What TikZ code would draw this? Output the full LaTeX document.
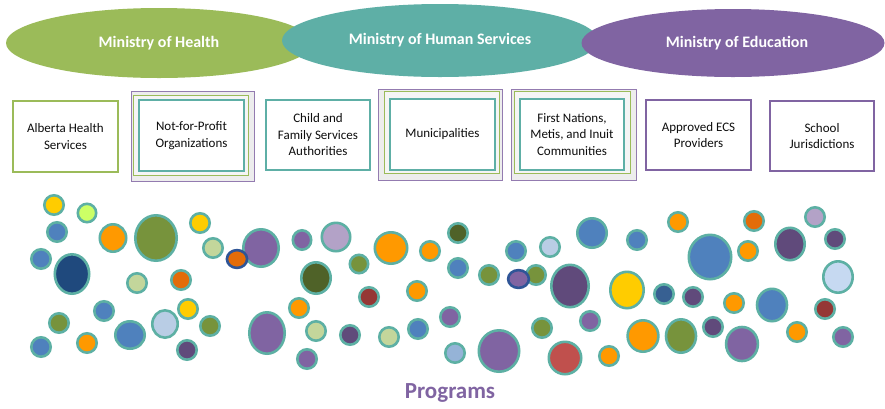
\documentclass[tikz,border=0pt]{standalone}
\usepackage{fontspec}
\setmainfont{Carlito}
\usetikzlibrary{shapes.geometric}
\definecolor{hgreen}{HTML}{9BBB59}
\definecolor{hteal}{HTML}{5EAFA6}
\definecolor{hpurple}{HTML}{8064A2}
\definecolor{ring}{HTML}{5DB0A4}
\definecolor{ringblue}{HTML}{2F5597}
\definecolor{cgold}{HTML}{FFCC00}
\definecolor{clime}{HTML}{CCFF66}
\definecolor{cblue}{HTML}{4F81BD}
\definecolor{corange}{HTML}{FF9900}
\definecolor{colive}{HTML}{77933C}
\definecolor{csage}{HTML}{C3D69B}
\definecolor{cdorange}{HTML}{E36C09}
\definecolor{cpurple}{HTML}{8064A2}
\definecolor{cnavy}{HTML}{1F497D}
\definecolor{clblue}{HTML}{B9CDE5}
\definecolor{cdpurple}{HTML}{604A7B}
\definecolor{clilac}{HTML}{B3A2C7}
\definecolor{cdolive}{HTML}{4F6228}
\definecolor{credbrown}{HTML}{953735}
\definecolor{csky}{HTML}{95B3D7}
\definecolor{cred}{HTML}{C0504D}
\definecolor{cpale}{HTML}{C6D9F1}
\definecolor{cdblue}{HTML}{376092}
\definecolor{txt}{HTML}{0D0D0D}
\tikzset{
  ministry/.style={ellipse, draw=none, inner sep=0pt, text=white,
    font=\fontsize{16}{19}\selectfont\bfseries},
  boxtext/.style={align=center, text=txt, inner sep=0pt,
    font=\fontsize{13}{16.5}\selectfont},
  greenbox/.style={boxtext, draw=hgreen, line width=2pt, fill=white},
  tealbox/.style={boxtext, draw=hteal, line width=2pt, fill=white},
  purplebox/.style={boxtext, draw=hpurple, line width=2pt, fill=white},
  outerbox/.style={draw=hpurple!85, line width=1pt, fill=black!7, inner sep=0pt},
  midbox/.style={draw=hgreen, line width=1.2pt, fill=black!4, inner sep=0pt},
  dot/.style={draw=ring, line width=2.6pt},
}
\begin{document}
\begin{tikzpicture}[x=1pt,y=-1pt]
\useasboundingbox (0,0) rectangle (885,408);
\fill[white] (0,0) rectangle (885,408);

% ministries
\node[ministry, fill=hgreen, minimum width=306pt, minimum height=70pt] (health) at (159,43) {Ministry of Health};
\node[ministry, fill=hteal, minimum width=316pt, minimum height=73pt] (human) at (440,40.5) {Ministry of Human Services};
\node[ministry, fill=hpurple, minimum width=303pt, minimum height=68pt] (edu) at (733,43) {\hspace*{8pt}Ministry of Education};

% boxes
\node[greenbox, minimum width=105pt, minimum height=71pt] (ahs) at (65.5,136.5) {Alberta Health\\Services};

\node[outerbox, minimum width=123pt, minimum height=90pt] (nfpo) at (193,136.5) {};
\node[midbox, minimum width=115pt, minimum height=80pt] (nfpm) at (191,135.5) {};
\node[tealbox, minimum width=105pt, minimum height=71pt] (nfp) at (191.5,135.5) {Not-for-Profit\\Organizations};

\node[tealbox, minimum width=104pt, minimum height=70pt] (cfsa) at (318,135) {Child and\\Family Services\\Authorities};

\node[outerbox, minimum width=124pt, minimum height=91pt] (munio) at (440.5,135) {};
\node[midbox, minimum width=115pt, minimum height=82pt] (munim) at (442,132.5) {};
\node[tealbox, minimum width=105pt, minimum height=71pt] (muni) at (442.5,134.5) {Municipalities};

\node[outerbox, minimum width=125pt, minimum height=91pt] (fno) at (574,135) {};
\node[midbox, minimum width=116pt, minimum height=82pt] (fnm) at (572.5,132.5) {};
\node[tealbox, minimum width=104pt, minimum height=71pt] (fn) at (572,134.5) {First Nations,\\Metis, and Inuit\\Communities};

\node[purplebox, minimum width=105pt, minimum height=70pt] (ecs) at (698.5,135) {Approved ECS\\Providers};
\node[purplebox, minimum width=104pt, minimum height=70pt] (school) at (822,136) {School\\Jurisdictions};

% program circles
\foreach \x/\y/\rx/\ry/\c in {
  54/205/11/11/cgold, 87/213/10.5/10.5/clime, 57/232/11/11/cblue,
  113/238/14.5/15/corange, 156/238/22/24/colive, 200/223/11/11/cgold,
  213/248/11/11/csage, 261/248/19/20/cpurple, 41/259/11/11/cblue,
  72/274/18.5/21/cnavy, 137/283/11/11/csage, 181/280/11/11/cdorange,
  104/311/11/11/cblue, 188/309/11/11/cgold, 59/323/11/11/colive,
  165/324/14/15/clblue, 210/326/11/11/colive, 267/333/19/22/cpurple,
  41/347/11/11/cblue, 87/343/11/11/corange, 130/335/16/15/cblue,
  187/350/11/11/cdpurple,
  302/240/10.5/11/cpurple, 336/237/15.5/15.5/clilac, 391/248/17.5/17/corange,
  430/251/11/11/corange, 458/233/11/11/cdolive, 316/278/16/17/cdolive,
  359/264/10.5/10.5/colive, 458/268/11/11/cblue, 516/251/11/11/cblue,
  550/247/11/11/clblue, 592/233/16/16/cblue, 489/275/11/11/colive,
  536/275/11/11/colive, 570/286/20/22.5/cdpurple,
  299/308/11/11/corange, 369/297/11/11/credbrown, 417/291/11/11/corange,
  450/317/11/11/cpurple, 316/331/11/11/csage, 350/335/11/11/cdpurple,
  389/337/11/11/csage, 418/329/11/11/cblue, 307/359/11/11/cpurple,
  455/353/11/11/csky, 499/351/21.5/22/cpurple, 542/328/11/11/colive,
  565/358/17.5/17.5/cred, 590/321/11/11/cpurple,
  637/240/11/11/cblue, 678/222/11/11/corange, 754/221/11/11/cdorange,
  815/217/11/11/clilac, 710/257/22.5/23.5/cblue, 748/251/11/11/corange,
  790/244/16/17.5/cdpurple, 835/239/11/11/cdpurple, 838/277/16/17/cpale,
  627/290/18/19.5/cgold, 664/294/11/11/cdblue, 693/297/11/11/cdpurple,
  734/303/11/11/corange, 772/305/16.3/17.5/cblue, 825/309/11/11/credbrown,
  643/336/16.7/17/corange, 681/336/16.3/18/colive, 713/327/11/11/cdpurple,
  742/344/17.2/18.3/cpurple, 797/332/11/11/corange, 843/337/11/11/cpurple,
  609/356/11/11/corange}
{
  \pgfmathsetmacro\ax{\rx-1.3}
  \pgfmathsetmacro\ay{\ry-1.3}
  \filldraw[dot, fill=\c] (\x,\y) ellipse [x radius=\ax pt, y radius=\ay pt];
}
% two rings with a dark blue border
\filldraw[dot, draw=ringblue, fill=cdorange] (237,259) ellipse [x radius=10.1pt, y radius=8.9pt];
\filldraw[dot, draw=ringblue, fill=cpurple] (518.5,279) ellipse [x radius=10.4pt, y radius=8.9pt];

\node[text=hpurple, font=\fontsize{23}{27}\selectfont\bfseries] (prog) at (450,393) {Programs};
\end{tikzpicture}
\end{document}
